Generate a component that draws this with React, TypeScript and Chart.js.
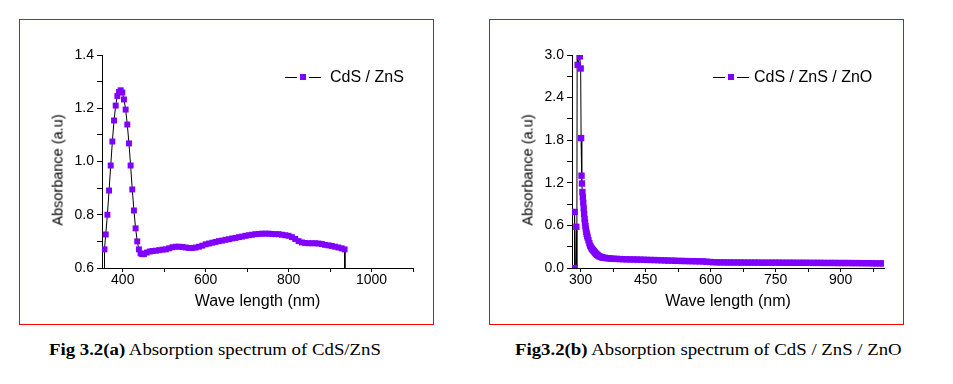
import React, { useEffect, useRef } from "react";
import { Chart, registerables } from "chart.js";

Chart.register(...registerables);

const MARKER = "#8000ff";
const FRAME = "rgb(255, 0, 0)";
const SANS = "'Liberation Sans', Arial, sans-serif";
const SERIF = "'Liberation Serif', 'Times New Roman', serif";

// ---------- Fig 3.2(a): CdS / ZnS ----------
const cdsZnsWavelength = [
  355, 356, 359, 363, 367, 371, 375, 379, 383, 387,
  391, 395, 399, 403, 407, 411, 415, 419, 423, 427,
  431, 435, 439, 443, 447, 451, 458, 465, 472,
  480, 488, 496, 504, 512, 520, 528, 536, 544, 552,
  560, 568, 576, 584, 592, 600, 608, 616, 624, 632,
  640, 648, 656, 664, 672, 680, 688, 696, 704, 712,
  720, 728, 736, 744, 752, 760, 768, 776, 784, 792,
  800, 808, 816, 824, 832, 840, 848, 856, 864, 872,
  880, 888, 896, 904, 912, 920, 928, 935, 936,
];
const cdsZnsAbsorbance = [
  0.30, 0.67, 0.726, 0.80, 0.891, 0.985, 1.075, 1.154, 1.21, 1.246,
  1.261, 1.2675, 1.259, 1.233, 1.195, 1.139, 1.068, 0.985, 0.895, 0.816,
  0.749, 0.70, 0.67, 0.655, 0.652, 0.652, 0.658, 0.662, 0.664,
  0.665, 0.667, 0.669, 0.670, 0.674, 0.678, 0.680, 0.680, 0.679, 0.677,
  0.675, 0.675, 0.677, 0.680, 0.684, 0.689, 0.692, 0.695, 0.698, 0.701,
  0.703, 0.706, 0.708, 0.711, 0.713, 0.716, 0.718, 0.721, 0.723, 0.725,
  0.727, 0.728, 0.729, 0.729, 0.729, 0.728, 0.727, 0.727, 0.725, 0.723,
  0.721, 0.716, 0.709, 0.701, 0.696, 0.694, 0.693, 0.693, 0.693, 0.692,
  0.690, 0.687, 0.685, 0.683, 0.680, 0.677, 0.674, 0.670, 0.30,
];
const leftXTicks = [400, 500, 600, 700, 800, 900, 1000, 1100];
const leftXLabels = [400, 600, 800, 1000];
const leftYTicks = [0.6, 0.7, 0.8, 0.9, 1.0, 1.1, 1.2, 1.3, 1.4];
const leftYLabels = [0.6, 0.8, 1.0, 1.2, 1.4];

// ---------- Fig 3.2(b): CdS / ZnS / ZnO ----------
const cdsZnsZnoWavelength = [
  285, 286, 287, 290, 291, 292, 293, 298, 300, 301,
  302, 303, 304, 305, 306, 307, 308, 309, 310, 311,
  312, 313, 314, 315, 316, 318, 320, 322, 324, 326,
  328, 330, 332, 334, 336, 338, 340, 343, 346, 349,
  352, 356, 360, 365, 370, 376, 383, 390, 398, 406,
  414, 422, 430, 438, 446, 454, 462, 470, 478, 486,
  494, 502, 510, 518, 526, 534, 542, 550, 558, 566,
  574, 582, 590, 598, 606, 614, 622, 630, 638, 646,
  654, 662, 670, 678, 686, 694, 702, 710, 718, 726,
  734, 742, 750, 758, 766, 774, 782, 790, 798, 806,
  814, 822, 830, 838, 846, 854, 862, 870, 878, 886,
  894, 902, 910, 918, 926, 934, 942, 950, 958, 966,
  974, 982, 990, 998,
];
const cdsZnsZnoAbsorbance = [
  0.0, 0.79, -0.5, 0.58, -0.5, 3.4, 2.86, 2.98, 2.81, 1.83,
  1.30, 1.19, 1.07, 1.0, 0.92, 0.84, 0.76, 0.69, 0.64, 0.59,
  0.545, 0.51, 0.48, 0.455, 0.43, 0.39, 0.35, 0.315, 0.29, 0.27,
  0.255, 0.24, 0.225, 0.21, 0.197, 0.186, 0.176, 0.165, 0.156, 0.15,
  0.146, 0.142, 0.139, 0.136, 0.133, 0.13, 0.128, 0.126, 0.124, 0.122,
  0.121, 0.12, 0.119, 0.118, 0.116, 0.114, 0.113, 0.112, 0.111, 0.109,
  0.107, 0.105, 0.104, 0.102, 0.1, 0.099, 0.098, 0.097, 0.096, 0.095,
  0.094, 0.093, 0.088, 0.085, 0.082, 0.08, 0.079, 0.079, 0.078, 0.078,
  0.078, 0.077, 0.077, 0.077, 0.076, 0.076, 0.076, 0.076, 0.075, 0.075,
  0.075, 0.075, 0.075, 0.075, 0.074, 0.074, 0.074, 0.074, 0.073, 0.073,
  0.073, 0.073, 0.072, 0.072, 0.072, 0.072, 0.071, 0.071, 0.071, 0.071,
  0.070, 0.070, 0.070, 0.070, 0.069, 0.069, 0.069, 0.068, 0.068, 0.068,
  0.066, 0.065, 0.065, 0.065,
];
const rightXTicks = [300, 375, 450, 525, 600, 675, 750, 825, 900, 975];
const rightXLabels = [300, 450, 600, 750, 900];
const rightYTicks = [0, 0.3, 0.6, 0.9, 1.2, 1.5, 1.8, 2.1, 2.4, 2.7, 3.0];
const rightYLabels = [0, 0.6, 1.2, 1.8, 2.4, 3.0];

const has = (list: number[], v: number) => list.some((t) => Math.abs(t - v) < 1e-6);

type ChartProps = {
  wavelengths: number[];
  values: number[];
  xMin: number;
  xMax: number;
  yMin: number;
  yMax: number;
  xTicks: number[];
  xLabels: number[];
  yTicks: number[];
  yLabels: number[];
  rightPad: number;
  markerRadius: number;
  left: number;
};

function SpectrumChart(p: ChartProps) {
  const ref = useRef<HTMLCanvasElement | null>(null);
  useEffect(() => {
    if (!ref.current) return;
    const tickFont = { family: SANS, size: 14, lineHeight: 1.2 };
    const chart = new Chart(ref.current, {
      type: "line",
      data: {
        datasets: [
          {
            data: p.wavelengths.map((x, i) => ({ x, y: p.values[i] })),
            borderColor: "#000",
            borderWidth: 1,
            pointStyle: "rect",
            pointRadius: p.markerRadius,
            pointBackgroundColor: MARKER,
            pointBorderColor: MARKER,
            pointBorderWidth: 0,
            tension: 0,
            fill: false,
          },
        ],
      },
      options: {
        responsive: false,
        animation: false,
        events: [],
        layout: { padding: { left: 0, top: 35, right: p.rightPad, bottom: 0 } },
        plugins: { legend: { display: false }, tooltip: { enabled: false } },
        scales: {
          x: {
            type: "linear",
            min: p.xMin,
            max: p.xMax,
            afterBuildTicks: (s: any) => {
              s.ticks = p.xTicks.map((value) => ({ value }));
            },
            afterFit: (s: any) => {
              s.height = 54;
            },
            ticks: {
              autoSkip: false,
              maxRotation: 0,
              padding: 0,
              color: "#000",
              font: tickFont,
              callback: (v: any) => (has(p.xLabels, Number(v)) ? String(v) : ""),
            },
            grid: {
              display: true,
              drawOnChartArea: false,
              drawTicks: true,
              tickLength: 4,
              tickColor: "#000",
              tickWidth: 1,
            },
            border: { display: true, color: "#000", width: 1 },
            title: {
              display: true,
              text: "Wave length (nm)",
              color: "#000",
              font: { family: SANS, size: 16, lineHeight: 1.2 },
              padding: { top: 0, bottom: 11 },
            },
          },
          y: {
            type: "linear",
            min: p.yMin,
            max: p.yMax,
            afterBuildTicks: (s: any) => {
              s.ticks = p.yTicks.map((value) => ({ value }));
            },
            afterFit: (s: any) => {
              s.width = 82;
            },
            ticks: {
              autoSkip: false,
              padding: 3,
              color: "#000",
              font: tickFont,
              callback: (v: any) => (has(p.yLabels, Number(v)) ? Number(v).toFixed(1) : ""),
            },
            grid: {
              display: true,
              drawOnChartArea: false,
              drawTicks: true,
              tickLength: 5,
              tickColor: "#000",
              tickWidth: 1,
            },
            border: { display: true, color: "#000", width: 1 },
          },
        },
      } as any,
    });
    return () => chart.destroy();
  }, []);
  return (
    <canvas
      ref={ref}
      width={412}
      height={302}
      style={{ position: "absolute", left: p.left + 1, top: 20, width: 412, height: 302 }}
    />
  );
}

function Frame({ left }: { left: number }) {
  return (
    <div
      style={{
        position: "absolute",
        left,
        top: 18.5,
        width: 415,
        height: 306,
        border: `1.5px solid ${FRAME}`,
        boxSizing: "border-box",
      }}
    />
  );
}

function YTitle({ cx }: { cx: number }) {
  return (
    <div
      style={{
        position: "absolute",
        left: cx,
        top: 170,
        transform: "translate(-50%, -50%) rotate(-90deg)",
        fontFamily: SANS,
        fontSize: 14.5,
        lineHeight: "15px",
        whiteSpace: "nowrap",
        color: "#000",
      }}
    >
      Absorbance (a.u)
    </div>
  );
}

function Legend({ left, gap, label }: { left: number; gap: number; label: string }) {
  return (
    <div
      style={{
        position: "absolute",
        left,
        top: 69,
        height: 16,
        display: "flex",
        alignItems: "center",
        fontFamily: SANS,
        fontSize: 16,
        lineHeight: "16px",
        whiteSpace: "nowrap",
        color: "#000",
      }}
    >
      <div style={{ position: "relative", width: 36, height: 7 }}>
        <div style={{ position: "absolute", left: 0, top: 3, width: 12, height: 1, background: "#000" }} />
        <div style={{ position: "absolute", left: 15, top: 0.5, width: 6, height: 6, background: MARKER }} />
        <div style={{ position: "absolute", left: 24, top: 3, width: 12, height: 1, background: "#000" }} />
      </div>
      <span style={{ marginLeft: gap }}>{label}</span>
    </div>
  );
}

function Caption({ left, bold, rest }: { left: number; bold: string; rest: string }) {
  return (
    <div
      style={{
        position: "absolute",
        left,
        top: 340,
        fontFamily: SERIF,
        fontSize: 17,
        lineHeight: "20px",
        whiteSpace: "nowrap",
        color: "#000",
        transform: "scaleX(1.105)",
        transformOrigin: "left center",
      }}
    >
      <b>{bold}</b>
      {rest}
    </div>
  );
}

export default function App() {
  return (
    <div style={{ position: "absolute", left: 0, top: 0, width: 953, height: 384, background: "#fff", overflow: "hidden" }}>
      <Frame left={18.5} />
      <Frame left={488.5} />
      <SpectrumChart
        wavelengths={cdsZnsWavelength}
        values={cdsZnsAbsorbance}
        xMin={350}
        xMax={1100}
        yMin={0.6}
        yMax={1.4}
        xTicks={leftXTicks}
        xLabels={leftXLabels}
        yTicks={leftYTicks}
        yLabels={leftYLabels}
        rightPad={19}
        markerRadius={4.2}
        left={19}
      />
      <SpectrumChart
        wavelengths={cdsZnsZnoWavelength}
        values={cdsZnsZnoAbsorbance}
        xMin={280}
        xMax={1000}
        yMin={0}
        yMax={3.0}
        xTicks={rightXTicks}
        xLabels={rightXLabels}
        yTicks={rightYTicks}
        yLabels={rightYLabels}
        rightPad={18}
        markerRadius={4.5}
        left={489}
      />
      <YTitle cx={58} />
      <YTitle cx={528} />
      <Legend left={285} gap={9} label="CdS / ZnS" />
      <Legend left={713} gap={5} label="CdS / ZnS / ZnO" />
      <Caption left={49} bold="Fig 3.2(a)" rest=" Absorption spectrum of CdS/ZnS" />
      <Caption left={515} bold="Fig3.2(b)" rest=" Absorption spectrum of CdS / ZnS / ZnO" />
    </div>
  );
}
